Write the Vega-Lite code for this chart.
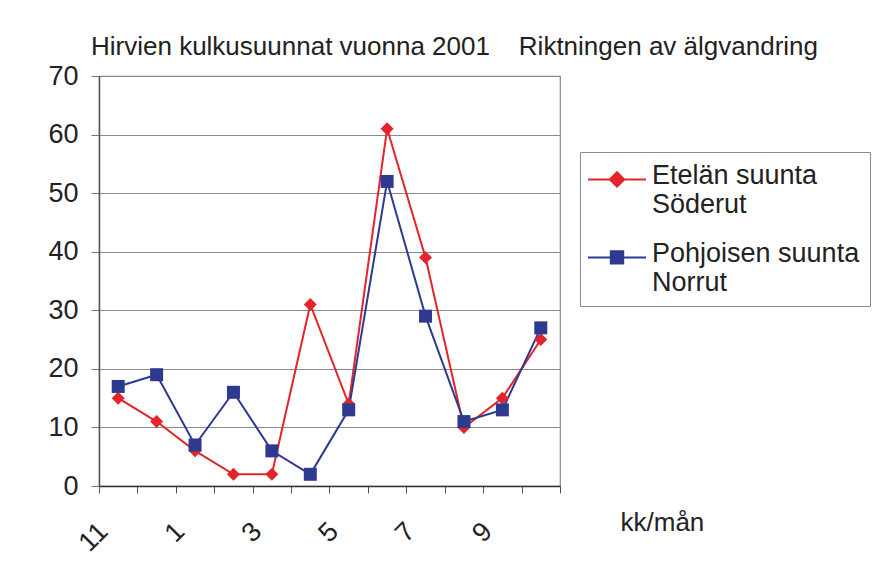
{
  "$schema": "https://vega.github.io/schema/vega-lite/v6.json",
  "width": 461,
  "height": 410,
  "autosize": "none",
  "padding": {"left": 99, "top": 76, "right": 336, "bottom": 83},
  "background": "white",
  "config": {
    "font": "Liberation Sans",
    "view": {"stroke": "#8a8a8a", "strokeWidth": 1.2},
    "legend": {
      "title": null,
      "orient": "none",
      "legendX": 481,
      "legendY": 76,
      "padding": 10,
      "strokeColor": "#8a8a8a",
      "fillColor": "white",
      "labelFontSize": 27,
      "labelColor": "#222222",
      "labelLimit": 0,
      "labelOffset": 35,
      "symbolSize": 169,
      "symbolStrokeWidth": 2,
      "symbolOpacity": 1,
      "rowPadding": 21
    }
  },
  "title": {
    "text": "Hirvien kulkusuunnat vuonna 2001\u00a0\u00a0\u00a0\u00a0Riktningen av älgvandring",
    "anchor": "start",
    "frame": "group",
    "fontSize": 26,
    "fontWeight": "normal",
    "color": "#222222",
    "dx": -8,
    "offset": 2,
    "limit": 0
  },
  "data": {
    "values": [
      {"m": "11", "s": "Etelän suunta Söderut", "v": 15},
      {"m": "12", "s": "Etelän suunta Söderut", "v": 11},
      {"m": "1", "s": "Etelän suunta Söderut", "v": 6},
      {"m": "2", "s": "Etelän suunta Söderut", "v": 2},
      {"m": "3", "s": "Etelän suunta Söderut", "v": 2},
      {"m": "4", "s": "Etelän suunta Söderut", "v": 31},
      {"m": "5", "s": "Etelän suunta Söderut", "v": 14},
      {"m": "6", "s": "Etelän suunta Söderut", "v": 61},
      {"m": "7", "s": "Etelän suunta Söderut", "v": 39},
      {"m": "8", "s": "Etelän suunta Söderut", "v": 10},
      {"m": "9", "s": "Etelän suunta Söderut", "v": 15},
      {"m": "10", "s": "Etelän suunta Söderut", "v": 25},
      {"m": "11", "s": "Pohjoisen suunta Norrut", "v": 17},
      {"m": "12", "s": "Pohjoisen suunta Norrut", "v": 19},
      {"m": "1", "s": "Pohjoisen suunta Norrut", "v": 7},
      {"m": "2", "s": "Pohjoisen suunta Norrut", "v": 16},
      {"m": "3", "s": "Pohjoisen suunta Norrut", "v": 6},
      {"m": "4", "s": "Pohjoisen suunta Norrut", "v": 2},
      {"m": "5", "s": "Pohjoisen suunta Norrut", "v": 13},
      {"m": "6", "s": "Pohjoisen suunta Norrut", "v": 52},
      {"m": "7", "s": "Pohjoisen suunta Norrut", "v": 29},
      {"m": "8", "s": "Pohjoisen suunta Norrut", "v": 11},
      {"m": "9", "s": "Pohjoisen suunta Norrut", "v": 13},
      {"m": "10", "s": "Pohjoisen suunta Norrut", "v": 27}
    ]
  },
  "encoding": {
    "x": {
      "field": "m",
      "type": "nominal",
      "sort": ["11", "12", "1", "2", "3", "4", "5", "6", "7", "8", "9", "10"],
      "scale": {"type": "band", "paddingInner": 0, "paddingOuter": 0},
      "axis": {
        "title": "kk/mån",
        "titleFontSize": 26,
        "titleFontWeight": "normal",
        "titleColor": "#222222",
        "titleAnchor": "start",
        "titleAlign": "left",
        "titleAngle": 0,
        "titleX": 521,
        "titleY": 44,
        "titleBaseline": "alphabetic",
        "labelExpr": "indexof(['11','1','3','5','7','9'], datum.label) >= 0 ? datum.label : ''",
        "labelAngle": -45,
        "labelAlign": "right",
        "labelBaseline": "middle",
        "labelFontSize": 27,
        "labelColor": "#222222",
        "labelPadding": 34,
        "labelOffset": -15,
        "tickBand": "extent",
        "tickSize": 7,
        "tickColor": "#555555",
        "domainColor": "#333333",
        "domainWidth": 1.5,
        "grid": false
      }
    },
    "y": {
      "field": "v",
      "type": "quantitative",
      "scale": {"domain": [0, 70], "nice": false},
      "axis": {
        "title": null,
        "values": [0, 10, 20, 30, 40, 50, 60, 70],
        "labelFontSize": 27,
        "labelColor": "#222222",
        "labelPadding": 13,
        "tickSize": 8,
        "tickColor": "#777777",
        "domainColor": "#555555",
        "domainWidth": 1.5,
        "grid": true,
        "gridColor": "#8a8a8a",
        "gridWidth": 1
      }
    }
  },
  "layer": [
    {
      "transform": [{"filter": "datum.s == 'Etelän suunta Söderut'"}],
      "mark": {"type": "line", "strokeWidth": 2, "color": "#e3242b"}
    },
    {
      "transform": [{"filter": "datum.s == 'Pohjoisen suunta Norrut'"}],
      "mark": {"type": "line", "strokeWidth": 2, "color": "#2d3a8f"}
    },
    {
      "transform": [{"filter": "datum.s == 'Etelän suunta Söderut'"}],
      "mark": {"type": "point", "filled": true, "opacity": 1, "size": 169, "shape": "diamond", "color": "#e3242b"}
    },
    {
      "transform": [{"filter": "datum.s == 'Pohjoisen suunta Norrut'"}],
      "mark": {"type": "point", "filled": true, "opacity": 1, "size": 169, "shape": "square", "color": "#2d3a8f"}
    },
    {
      "transform": [{"filter": "datum.v < 0"}],
      "mark": {"type": "point", "filled": true, "opacity": 1, "size": 169, "strokeWidth": 2},
      "encoding": {
        "color": {
          "field": "s",
          "type": "nominal",
          "scale": {
            "domain": ["Etelän suunta Söderut", "Pohjoisen suunta Norrut"],
            "range": ["#e3242b", "#2d3a8f"]
          },
          "legend": {
            "labelExpr": "datum.label == 'Etelän suunta Söderut' ? ['Etelän suunta', 'Söderut'] : ['Pohjoisen suunta', 'Norrut']"
          }
        },
        "stroke": {
          "field": "s",
          "type": "nominal",
          "scale": {
            "domain": ["Etelän suunta Söderut", "Pohjoisen suunta Norrut"],
            "range": ["#e3242b", "#2d3a8f"]
          },
          "legend": {
            "labelExpr": "datum.label == 'Etelän suunta Söderut' ? ['Etelän suunta', 'Söderut'] : ['Pohjoisen suunta', 'Norrut']"
          }
        },
        "shape": {
          "field": "s",
          "type": "nominal",
          "scale": {
            "domain": ["Etelän suunta Söderut", "Pohjoisen suunta Norrut"],
            "range": [
              "M-2.38,0.6H6.54M2.08,-0.5L3.18,0.6L2.08,1.7L0.98,0.6Z",
              "M-2.38,0.6H6.54M1.13,-0.35H3.03V1.55H1.13Z"
            ]
          },
          "legend": {
            "labelExpr": "datum.label == 'Etelän suunta Söderut' ? ['Etelän suunta', 'Söderut'] : ['Pohjoisen suunta', 'Norrut']"
          }
        }
      }
    }
  ]
}
